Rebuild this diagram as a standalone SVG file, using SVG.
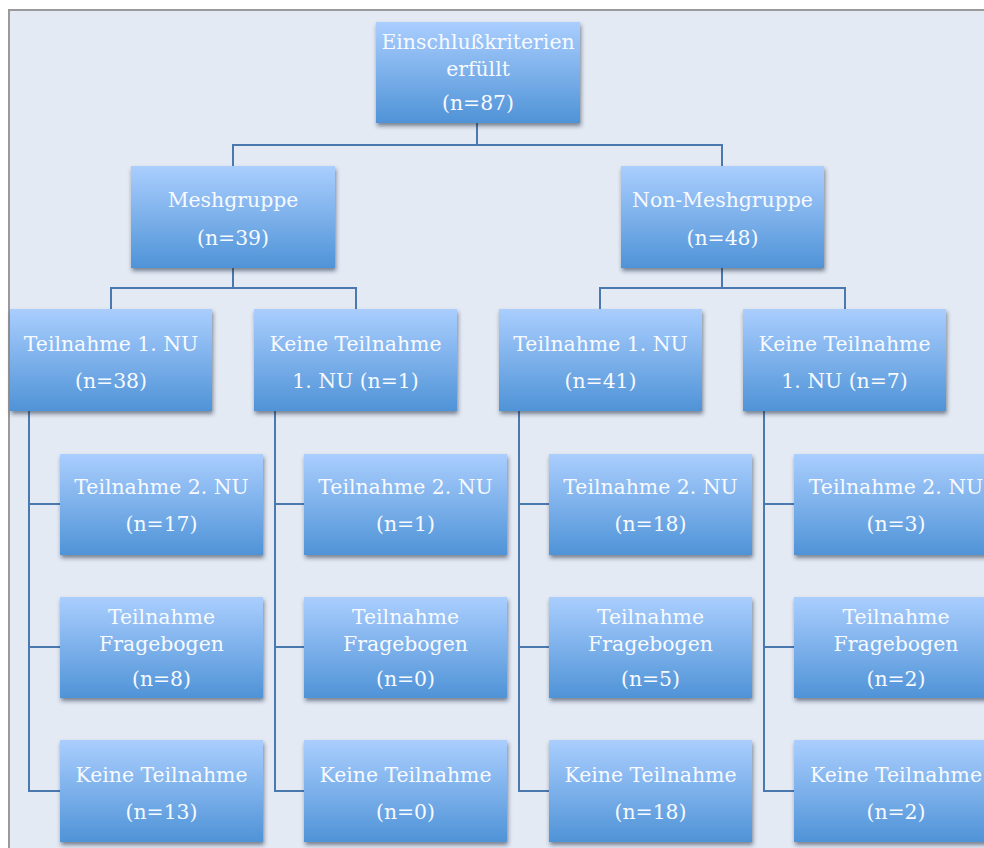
<svg xmlns="http://www.w3.org/2000/svg" width="984" height="848" viewBox="0 0 984 848">
<defs>
<linearGradient id="g" x1="0" y1="0" x2="0" y2="1">
<stop offset="0" stop-color="#aacefe"/>
<stop offset="1" stop-color="#4f93d7"/>
</linearGradient>
<filter id="sh" x="-10%" y="-10%" width="125%" height="130%">
<feDropShadow dx="1" dy="3" stdDeviation="2.2" flood-color="#1a2a40" flood-opacity="0.55"/>
</filter>
</defs>
<style>
.b{fill:url(#g);filter:url(#sh)}
.t{font-family:"DejaVu Serif","Liberation Serif",serif;font-size:20.4px;fill:#f7faff;text-anchor:middle}
.c{fill:none;stroke:#4a79b0;stroke-width:2}
</style>
<rect x="0" y="0" width="984" height="848" fill="#ffffff"/>
<rect x="9" y="10" width="975" height="838" fill="#e3eaf4"/>
<path d="M9,848 V10 H984" fill="none" stroke="#9a9a9a" stroke-width="2"/>
<g id="connectors">
<path class="c" d="M477,123 V145 M233,166 V145 H722 V166"/>
<path class="c" d="M233,268 V288 M111,309 V288 H356 V309"/>
<path class="c" d="M722,268 V288 M600,309 V288 H845 V309"/>
<path class="c" d="M29,411 V791 H60 M29,504 H60 M29,647 H60"/>
<path class="c" d="M275,411 V791 H304 M275,504 H304 M275,647 H304"/>
<path class="c" d="M519,411 V791 H549 M519,504 H549 M519,647 H549"/>
<path class="c" d="M764,411 V791 H794 M764,504 H794 M764,647 H794"/>
</g>
<g id="n_root"><rect class="b" x="376" y="22" width="204" height="101"/><text class="t" x="478" y="49">Einschlußkriterien</text><text class="t" x="478" y="76">erfüllt</text><text class="t" x="478" y="110">(n=87)</text></g>
<g id="n_mesh"><rect class="b" x="131" y="166" width="204" height="102"/><text class="t" x="233" y="207">Meshgruppe</text><text class="t" x="233" y="245">(n=39)</text></g>
<g id="n_nonmesh"><rect class="b" x="621" y="166" width="203" height="102"/><text class="t" x="722.5" y="207">Non-Meshgruppe</text><text class="t" x="722.5" y="245">(n=48)</text></g>
<g id="n_m_t1"><rect class="b" x="10" y="309" width="202" height="102"/><text class="t" x="111" y="351">Teilnahme 1. NU</text><text class="t" x="111" y="388">(n=38)</text></g>
<g id="n_m_k1"><rect class="b" x="254" y="309" width="203" height="102"/><text class="t" x="355.5" y="351">Keine Teilnahme</text><text class="t" x="355.5" y="388">1. NU (n=1)</text></g>
<g id="n_n_t1"><rect class="b" x="499" y="309" width="203" height="102"/><text class="t" x="600.5" y="351">Teilnahme 1. NU</text><text class="t" x="600.5" y="388">(n=41)</text></g>
<g id="n_n_k1"><rect class="b" x="743" y="309" width="203" height="102"/><text class="t" x="844.5" y="351">Keine Teilnahme</text><text class="t" x="844.5" y="388">1. NU (n=7)</text></g>
<g id="n_c1_r1"><rect class="b" x="60" y="454" width="203" height="101"/><text class="t" x="161.5" y="494">Teilnahme 2. NU</text><text class="t" x="161.5" y="531">(n=17)</text></g>
<g id="n_c1_r2"><rect class="b" x="60" y="597" width="203" height="101"/><text class="t" x="161.5" y="624">Teilnahme</text><text class="t" x="161.5" y="651">Fragebogen</text><text class="t" x="161.5" y="686">(n=8)</text></g>
<g id="n_c1_r3"><rect class="b" x="60" y="740" width="203" height="102"/><text class="t" x="161.5" y="782">Keine Teilnahme</text><text class="t" x="161.5" y="819">(n=13)</text></g>
<g id="n_c2_r1"><rect class="b" x="304" y="454" width="203" height="101"/><text class="t" x="405.5" y="494">Teilnahme 2. NU</text><text class="t" x="405.5" y="531">(n=1)</text></g>
<g id="n_c2_r2"><rect class="b" x="304" y="597" width="203" height="101"/><text class="t" x="405.5" y="624">Teilnahme</text><text class="t" x="405.5" y="651">Fragebogen</text><text class="t" x="405.5" y="686">(n=0)</text></g>
<g id="n_c2_r3"><rect class="b" x="304" y="740" width="203" height="102"/><text class="t" x="405.5" y="782">Keine Teilnahme</text><text class="t" x="405.5" y="819">(n=0)</text></g>
<g id="n_c3_r1"><rect class="b" x="549" y="454" width="203" height="101"/><text class="t" x="650.5" y="494">Teilnahme 2. NU</text><text class="t" x="650.5" y="531">(n=18)</text></g>
<g id="n_c3_r2"><rect class="b" x="549" y="597" width="203" height="101"/><text class="t" x="650.5" y="624">Teilnahme</text><text class="t" x="650.5" y="651">Fragebogen</text><text class="t" x="650.5" y="686">(n=5)</text></g>
<g id="n_c3_r3"><rect class="b" x="549" y="740" width="203" height="102"/><text class="t" x="650.5" y="782">Keine Teilnahme</text><text class="t" x="650.5" y="819">(n=18)</text></g>
<g id="n_c4_r1"><rect class="b" x="794" y="454" width="203" height="101"/><text class="t" x="896" y="494">Teilnahme 2. NU</text><text class="t" x="896" y="531">(n=3)</text></g>
<g id="n_c4_r2"><rect class="b" x="794" y="597" width="203" height="101"/><text class="t" x="896" y="624">Teilnahme</text><text class="t" x="896" y="651">Fragebogen</text><text class="t" x="896" y="686">(n=2)</text></g>
<g id="n_c4_r3"><rect class="b" x="794" y="740" width="203" height="102"/><text class="t" x="896" y="782">Keine Teilnahme</text><text class="t" x="896" y="819">(n=2)</text></g>
</svg>
